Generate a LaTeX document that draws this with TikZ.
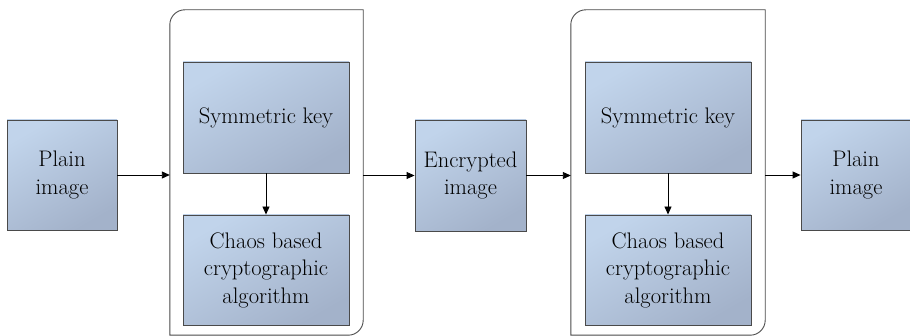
\documentclass[tikz,border=0pt]{standalone}
\usetikzlibrary{arrows.meta,shadows,fit}
\definecolor{boxtop}{HTML}{C1D4EB}
\definecolor{boxbot}{HTML}{A3B2CA}
\definecolor{edge}{HTML}{4A4A4A}
\tikzset{
  bluebox/.style={draw=edge, line width=0.9pt, top color=boxtop, bottom color=boxbot, shading angle=30,
    minimum width=#1, align=center, inner sep=0pt, text=black,
    font=\fontsize{22.5}{27.5}\selectfont,
    drop shadow={shadow xshift=1.2pt, shadow yshift=-1.2pt, opacity=0.25}},
  bluebox/.default=110pt,
  groupline/.style={draw=edge, line width=0.9pt},
  arr/.style={line width=0.9pt, -{Triangle[length=8pt,width=7pt]}}
}
\begin{document}
\begin{tikzpicture}[x=1pt,y=1pt]
\useasboundingbox (0,0) rectangle (910,-336);
% outer boxes
\node[bluebox=110pt, minimum height=110pt] (plain1) at (62,-175) {Plain\\image};
\node[bluebox=111pt, minimum height=111pt] (enc) at (470.5,-175.5) {Encrypted\\image};
\node[bluebox=110pt, minimum height=110pt] (plain2) at (856,-175) {Plain\\image};
% group 1
\node[bluebox=166pt, minimum height=111pt] (sym1) at (266,-117.5) {Symmetric key};
\node[bluebox=166pt, minimum height=110pt] (chaos1) at (266,-270) {Chaos based\\cryptographic\\algorithm};
\coordinate (g1tl) at (170,-10);
\coordinate (g1br) at (363,-335);
\node[inner sep=0pt, fit=(g1tl)(g1br)] (g1) {};
\draw[groupline] (g1.south west) -- ([yshift=-15pt]g1.north west) arc[start angle=180,end angle=90,radius=15pt]
  -- (g1.north east) -- ([yshift=15pt]g1.south east) arc[start angle=0,end angle=-90,radius=15pt] -- cycle;
% group 2
\node[bluebox=166pt, minimum height=111pt] (sym2) at (668,-117.5) {Symmetric key};
\node[bluebox=166pt, minimum height=110pt] (chaos2) at (668,-270) {Chaos based\\cryptographic\\algorithm};
\coordinate (g2tl) at (571,-10);
\coordinate (g2br) at (765,-335);
\node[inner sep=0pt, fit=(g2tl)(g2br)] (g2) {};
\draw[groupline] (g2.south west) -- ([yshift=-15pt]g2.north west) arc[start angle=180,end angle=90,radius=15pt]
  -- (g2.north east) -- ([yshift=15pt]g2.south east) arc[start angle=0,end angle=-90,radius=15pt] -- cycle;
% arrows
\draw[arr] (plain1.east) -- (plain1.east -| g1.west);
\draw[arr] (enc.west -| g1.east) -- (enc.west);
\draw[arr] (enc.east) -- (enc.east -| g2.west);
\draw[arr] (plain2.west -| g2.east) -- (plain2.west);
\draw[arr] (sym1.south) -- (chaos1.north);
\draw[arr] (sym2.south) -- (chaos2.north);
\end{tikzpicture}
\end{document}
